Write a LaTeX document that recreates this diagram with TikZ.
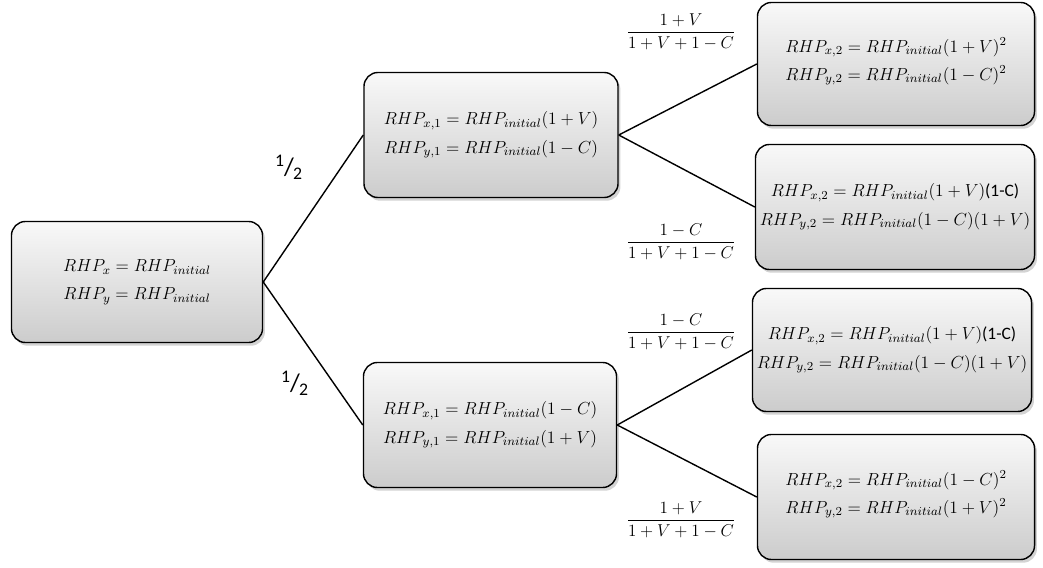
\RequirePackage{fix-cm}
\documentclass[tikz,border=0pt]{standalone}
\usepackage{amsmath}
\usepackage{fontspec}
\setmainfont{Carlito}
\usetikzlibrary{shadows}

\begin{document}
\begin{tikzpicture}[x=0.025cm,y=-0.025cm,
	box/.style={draw,rounded corners=0.35cm,line width=1pt,top color=gray!5,bottom color=gray!40,
		drop shadow={opacity=0.35,shadow xshift=0.6mm,shadow yshift=-0.8mm},
		align=center,inner sep=0pt,font=\fontsize{12.4}{20}\selectfont},
	prob/.style={font=\fontsize{12.2}{14}\selectfont},
	half/.style={font=\fontsize{18}{18}\selectfont}]
	\useasboundingbox (0,0) rectangle (1043,567);
	\node[box,minimum width=6.275cm,minimum height=3.025cm] (s0) at (137,282) {$RHP_x=RHP_{initial}$\\$RHP_y=RHP_{initial}$};
	\node[box,minimum width=6.35cm,minimum height=3.125cm] (a1) at (491,135) {$RHP_{x,1}=RHP_{initial}(1+V)$\\$RHP_{y,1}=RHP_{initial}(1-C)$};
	\node[box,minimum width=6.325cm,minimum height=3.125cm] (b1) at (490,425) {$RHP_{x,1}=RHP_{initial}(1-C)$\\$RHP_{y,1}=RHP_{initial}(1+V)$};
	\node[box,minimum width=6.925cm,minimum height=3.075cm,text depth=0.25cm] (aa) at (896,64) {$RHP_{x,2}=RHP_{initial}(1+V)^2$\\$RHP_{y,2}=RHP_{initial}(1-C)^2$};
	\node[box,minimum width=6.975cm,minimum height=3.125cm] (ab) at (895,207) {$RHP_{x,2}=RHP_{initial}(1+V)\text{(1-C)}$\\$RHP_{y,2}=RHP_{initial}(1-C)(1+V)$};
	\node[box,minimum width=6.975cm,minimum height=3.075cm] (ba) at (892,350) {$RHP_{x,2}=RHP_{initial}(1+V)\text{(1-C)}$\\$RHP_{y,2}=RHP_{initial}(1-C)(1+V)$};
	\node[box,minimum width=6.925cm,minimum height=3.125cm,text depth=0.25cm] (bb) at (896,497) {$RHP_{x,2}=RHP_{initial}(1-C)^2$\\$RHP_{y,2}=RHP_{initial}(1+V)^2$};
	% branches
	\draw[line width=1pt] (s0.east)--(a1.west) (s0.east)--(b1.west);
	\draw[line width=1pt] (a1.east)--(aa.west) (a1.east)--(ab.west);
	\draw[line width=1pt] (b1.east)--(ba.west) (b1.east)--(bb.west);
	% probabilities
	\node[half] (h1) at (289,167) {\textsuperscript{1}\kern-0.5pt/\kern-0.5pt\textsubscript{2}};
	\node[half] (h2) at (295,383) {\textsuperscript{1}\kern-0.5pt/\kern-0.5pt\textsubscript{2}};
	\node[prob] (p1) at (681,32) {$\dfrac{1+V}{1+V+1-C}$};
	\node[prob] (p2) at (681,242) {$\dfrac{1-C}{1+V+1-C}$};
	\node[prob] (p3) at (681,332) {$\dfrac{1-C}{1+V+1-C}$};
	\node[prob] (p4) at (681,520) {$\dfrac{1+V}{1+V+1-C}$};
\end{tikzpicture}
\end{document}
